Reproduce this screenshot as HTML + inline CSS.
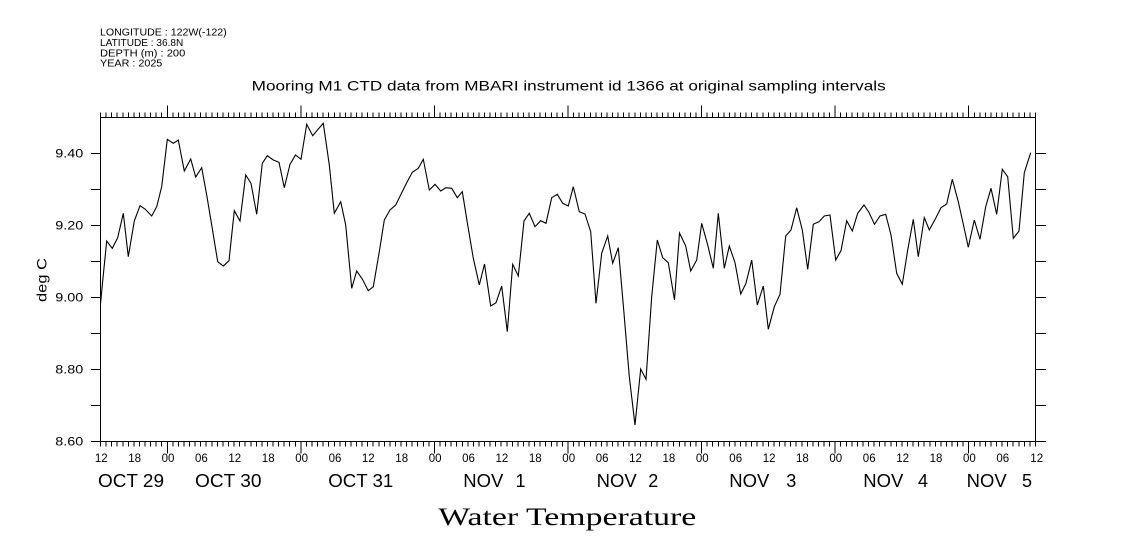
<!DOCTYPE html>
<html>
<head>
<meta charset="utf-8">
<style>
html,body{margin:0;padding:0;background:#fff;}
svg{display:block;}
text{font-family:"Liberation Sans",sans-serif;fill:#000;}
</style>
</head>
<body>
<svg width="1121" height="560" viewBox="0 0 1121 560" xmlns="http://www.w3.org/2000/svg">
<rect x="0" y="0" width="1121" height="560" fill="#fff"/>

<!-- header -->
<text x="100" y="35.7" font-size="10" textLength="126.7" lengthAdjust="spacingAndGlyphs">LONGITUDE : 122W(-122)</text>
<text x="100" y="46" font-size="10" textLength="83.3" lengthAdjust="spacingAndGlyphs">LATITUDE : 36.8N</text>
<text x="100" y="56.3" font-size="10" textLength="85.3" lengthAdjust="spacingAndGlyphs">DEPTH (m) : 200</text>
<text x="100" y="66.7" font-size="10" textLength="62.3" lengthAdjust="spacingAndGlyphs">YEAR : 2025</text>

<!-- title -->
<text x="251.7" y="90.7" font-size="14" textLength="634" lengthAdjust="spacingAndGlyphs">Mooring M1 CTD data from MBARI instrument id 1366 at original sampling intervals</text>

<!-- axes box -->
<g stroke="#000" stroke-width="1" fill="none" shape-rendering="crispEdges">
<rect x="100.5" y="117.5" width="935" height="324"/>
<line x1="100" y1="115" x2="1037" y2="115" stroke-width="5" stroke-dasharray="1 4.56548"/>
<line x1="100" y1="444" x2="1037" y2="444" stroke-width="5" stroke-dasharray="1 4.56548"/>
<path d="M167.3 117.5V105.5 M300.9 117.5V105.5 M434.4 117.5V105.5 M568 117.5V105.5 M701.6 117.5V105.5 M835.1 117.5V105.5 M968.7 117.5V105.5
M167.3 441.5V453.5 M300.9 441.5V453.5 M434.4 441.5V453.5 M568 441.5V453.5 M701.6 441.5V453.5 M835.1 441.5V453.5 M968.7 441.5V453.5"/>
<path d="M91 153.5H100.5 M91 189.5H100.5 M91 225.5H100.5 M91 261.5H100.5 M91 297.5H100.5 M91 333.5H100.5 M91 369.5H100.5 M91 405.5H100.5 M91 441.5H100.5
M1035.5 153.5H1046 M1035.5 189.5H1046 M1035.5 225.5H1046 M1035.5 261.5H1046 M1035.5 297.5H1046 M1035.5 333.5H1046 M1035.5 369.5H1046 M1035.5 405.5H1046 M1035.5 441.5H1046"/>
</g>

<!-- y labels -->
<g font-size="11.5" text-anchor="end">
<text x="83.3" y="157.7" textLength="28" lengthAdjust="spacingAndGlyphs">9.40</text>
<text x="83.3" y="229.7" textLength="28" lengthAdjust="spacingAndGlyphs">9.20</text>
<text x="83.3" y="301.7" textLength="28" lengthAdjust="spacingAndGlyphs">9.00</text>
<text x="83.3" y="373.7" textLength="28" lengthAdjust="spacingAndGlyphs">8.80</text>
<text x="83.3" y="445.7" textLength="28" lengthAdjust="spacingAndGlyphs">8.60</text>
</g>

<!-- y axis title -->
<text transform="translate(46.5,280) rotate(-90)" x="0" y="0" font-size="14" text-anchor="middle" textLength="44" lengthAdjust="spacingAndGlyphs">deg C</text>

<!-- hour labels -->
<g font-size="11.5" text-anchor="middle">
<text x="101.3" y="462">12</text>
<text x="134.6" y="462">18</text>
<text x="168" y="462">00</text>
<text x="201.4" y="462">06</text>
<text x="234.8" y="462">12</text>
<text x="268.2" y="462">18</text>
<text x="301.6" y="462">00</text>
<text x="335" y="462">06</text>
<text x="368.3" y="462">12</text>
<text x="401.7" y="462">18</text>
<text x="435.1" y="462">00</text>
<text x="468.5" y="462">06</text>
<text x="501.9" y="462">12</text>
<text x="535.3" y="462">18</text>
<text x="568.7" y="462">00</text>
<text x="602.1" y="462">06</text>
<text x="635.5" y="462">12</text>
<text x="668.9" y="462">18</text>
<text x="702.3" y="462">00</text>
<text x="735.7" y="462">06</text>
<text x="769.1" y="462">12</text>
<text x="802.4" y="462">18</text>
<text x="835.8" y="462">00</text>
<text x="869.2" y="462">06</text>
<text x="902.6" y="462">12</text>
<text x="936" y="462">18</text>
<text x="969.4" y="462">00</text>
<text x="1002.8" y="462">06</text>
<text x="1036.7" y="462">12</text>
</g>

<!-- date labels -->
<g font-size="18">
<text x="98" y="487" textLength="66" lengthAdjust="spacingAndGlyphs">OCT 29</text>
<text x="195" y="487" textLength="66.5" lengthAdjust="spacingAndGlyphs">OCT 30</text>
<text x="328.3" y="487" textLength="65" lengthAdjust="spacingAndGlyphs">OCT 31</text>
<text x="463.3" y="487" textLength="40" lengthAdjust="spacingAndGlyphs">NOV</text>
<text x="515.5" y="487">1</text>
<text x="596.7" y="487" textLength="40" lengthAdjust="spacingAndGlyphs">NOV</text>
<text x="648.3" y="487">2</text>
<text x="729.3" y="487" textLength="40" lengthAdjust="spacingAndGlyphs">NOV</text>
<text x="786.3" y="487">3</text>
<text x="863.3" y="487" textLength="40" lengthAdjust="spacingAndGlyphs">NOV</text>
<text x="918" y="487">4</text>
<text x="966.7" y="487" textLength="40" lengthAdjust="spacingAndGlyphs">NOV</text>
<text x="1022" y="487">5</text>
</g>

<!-- bottom title -->
<text x="438.3" y="525" style="font-family:'Liberation Serif',serif" font-size="25" textLength="258" lengthAdjust="spacingAndGlyphs">Water Temperature</text>

<!-- data -->
<polyline fill="none" stroke="#000" stroke-width="1.1" stroke-linejoin="miter" points="
100.5,304 102.3,285 106.7,241 112.3,248.3 117.7,237.7 123.3,213.3 128.3,256.7 134.3,221 140,205.7 145,209 151.7,216 156.7,206.7 161.7,186.7 167.3,139.3 173.3,143.3 178.3,140 184.3,171 190.7,159 195.7,177 201.7,167.7 206.7,195 211.7,225 217.7,261.7 223.3,266 229,260.7 234.3,210.7 240,221 245.7,175 251,183.3 256.7,214.3 262.3,163.3 267.3,155.7 273.3,160 279,162.3 284.3,187.7 290,164.3 295.5,155
301,159.3 306.7,124.3 312.7,135.7 318.3,129 323.3,123.3 329.3,165 334.3,213.3 340.7,201.7 345.7,225 351.7,288.3 356.7,271 362.3,279 368.3,290.7 373.3,286.7 379.3,251.7 384.3,220 390,210 395.7,205 401,194.3 406.7,182.7 412.3,172.3 418.3,168.3 423.3,159.3 429.3,190 435,184.3 440.7,191 446,187.7 451.7,188.3 457.3,197.7 462.3,191.7 467.7,225 473.3,258.3 479.3,285 484.5,264
490.7,306 496,302.7 501.7,286 507.3,331.7 512.7,264.3 518.3,276 524,221 529.3,213.3 535,226.7 540.7,220.7 546,223.3 551.7,197.7 557.3,194.3 562.7,203.3 568.3,206 573.3,186.7 579.3,211.7 585,214 590.7,231.7 596,303.3 601.7,253.3 607.7,236 612.7,263.3 618.3,247.7 624,313.3 629.3,376.7 635,425 640.7,369 646,379.3 651.7,296.7 657.3,240 662.7,257.7 668.3,262.7 674.5,300 679.5,233
685.7,246 690.7,271 696.7,260 701.7,223.3 707.7,245 713.3,268.3 718.3,213.3 724.3,268.3 729.3,246 735,262.7 740.7,294 746,283.3 751.7,260 757.3,305 763.3,286 768.3,329.3 774.3,306.7 780,294.3 785.7,236 791,230 796.7,207.7 802.3,230 807.7,269.3 813.3,224.3 819,221.7 824.3,216 830,215 835.7,260 841,250.7 846.7,220.7 852.3,231 857.7,213.3 864,205 869,212.5 874.5,224.3
880,216 885.7,214.3 891,235 896.7,273.3 902.3,284.3 907.7,250 913.3,219.3 918.3,256.7 924.3,217.7 929.3,230 935.7,218.3 941,207.7 946.7,204 952.3,179.3 958.3,201.7 963.3,224.3 968.3,247.3 974.3,220 980,239.3 985.7,206.7 991,188.3 996.7,214.3 1002.3,169.3 1007.7,176.7 1013.3,238.3 1019,231 1024.3,172.7 1030.7,152.7"/>
</svg>
</body>
</html>
